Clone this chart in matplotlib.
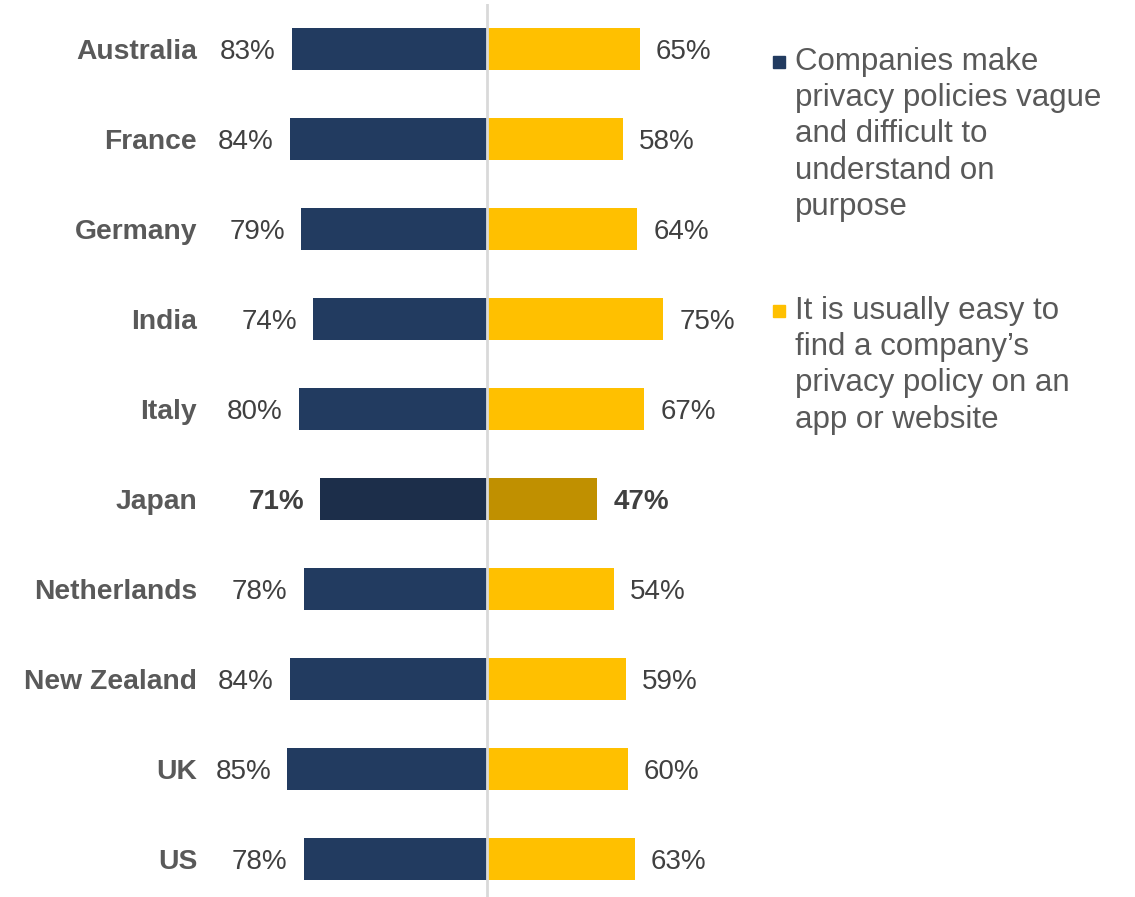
import matplotlib.pyplot as plt
from matplotlib.patches import Rectangle

plt.rcParams['font.family'] = ['Liberation Sans', 'DejaVu Sans']

# Survey results per country (% agreeing)
countries = ["Australia", "France", "Germany", "India", "Italy", "Japan",
             "Netherlands", "New Zealand", "UK", "US"]
vague_on_purpose = [83, 84, 79, 74, 80, 71, 78, 84, 85, 78]
easy_to_find = [65, 58, 64, 75, 67, 47, 54, 59, 60, 63]
highlight = "Japan"

legend_labels = [
    "Companies make\nprivacy policies vague\nand difficult to\nunderstand on\npurpose",
    "It is usually easy to\nfind a company\u2019s\nprivacy policy on an\napp or website",
]

navy = "#223b60"
gold = "#ffc000"
navy_hi = "#1c2e4a"
gold_hi = "#c09000"
label_grey = "#595959"
value_grey = "#404040"

W, H = 1135, 897
fig = plt.figure(figsize=(W / 100, H / 100), dpi=100)
ax = fig.add_axes([200 / W, 0, 560 / W, 893 / H])

px = 2.35  # pixels per percentage point
ax.set_xlim(-(487 - 200) / px, (760 - 487) / px)
ax.set_ylim(-0.5 + 893 / 90, -0.5)

ypos = list(range(len(countries)))
left_cols = [navy_hi if c == highlight else navy for c in countries]
right_cols = [gold_hi if c == highlight else gold for c in countries]

ax.barh(ypos, [-v for v in vague_on_purpose], height=0.47, color=left_cols, zorder=2)
ax.barh(ypos, easy_to_find, height=0.47, color=right_cols, zorder=2)
ax.axvline(0, color="#d9d9d9", lw=2, zorder=3)

for y, c, lv, rv in zip(ypos, countries, vague_on_purpose, easy_to_find):
    w = "bold" if c == highlight else "normal"
    ax.text(-lv - 16 / px, y, f"{lv}%", ha="right", va="center_baseline",
            fontsize=20, color=value_grey, fontweight=w)
    ax.text(rv + 16 / px, y, f"{rv}%", ha="left", va="center_baseline",
            fontsize=20, color=value_grey, fontweight=w)

ax.set_yticks(ypos)
ax.set_yticklabels(countries, fontsize=20.3, fontweight="bold", color=label_grey)
ax.tick_params(axis="y", length=0, pad=2)
ax.set_xticks([])
for s in ax.spines.values():
    s.set_visible(False)

# legend drawn as plain markers and text to the right of the bars
for (ty, col), txt in zip([(47, navy), (296, gold)], legend_labels):
    fig.patches.append(Rectangle((773 / W, 1 - (ty + 21) / H), 12 / W, 12 / H,
                                 transform=fig.transFigure, color=col))
    fig.text(795 / W, 1 - ty / H, txt, ha="left", va="top",
             fontsize=22.5, color=label_grey, linespacing=1.27)

fig.savefig("out.png", dpi=100)
